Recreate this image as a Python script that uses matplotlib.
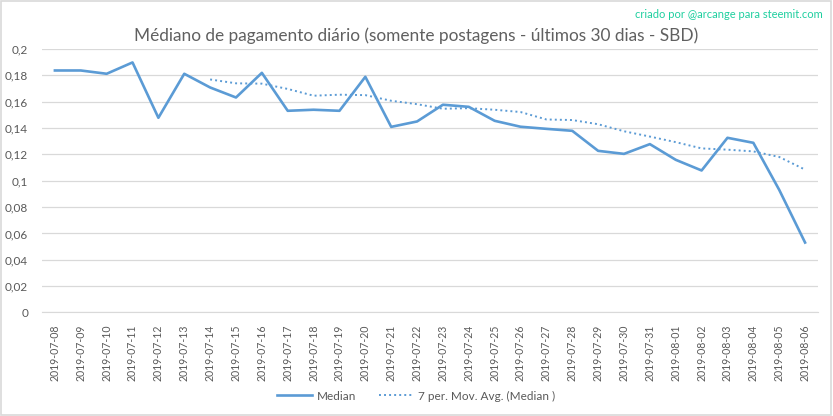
import numpy as np
import pandas as pd
import matplotlib
matplotlib.use("Agg")
import matplotlib.pyplot as plt
from matplotlib.patches import Rectangle

# daily median payout (SBD)
dates = pd.date_range("2019-07-08", "2019-08-06", freq="D").strftime("%Y-%m-%d").tolist()
median = [0.1837, 0.1837, 0.1812, 0.1898, 0.1478, 0.1812, 0.1708, 0.1632,
          0.1819, 0.1531, 0.1539, 0.1531, 0.1789, 0.1409, 0.1450, 0.1577,
          0.1561, 0.1455, 0.1410, 0.1394, 0.1379, 0.1227, 0.1204, 0.1278,
          0.1159, 0.1078, 0.1326, 0.1288, 0.0931, 0.0531]

# Excel-style 7 period moving average trendline of the median series
mov_avg = pd.Series(median).rolling(7).mean()

blue = "#5B9BD5"
grey_txt = "#595959"
grid_c = "#D9D9D9"

plt.rcParams["font.family"] = ["Lato", "DejaVu Sans"]

fig = plt.figure(figsize=(8.33, 4.16), dpi=100)
ax = fig.add_axes([0.0504, 0.2488, 0.9316, 0.6334])

x = np.arange(len(dates))
ax.plot(x, median, color=blue, linewidth=1.9, label="Median")
ax.plot(x, mov_avg, color=blue, linewidth=1.4, linestyle=(0, (1, 1.6)),
        label="7 per. Mov. Avg. (Median )")

ax.set_xlim(-0.5, len(dates) - 0.5)
ax.set_ylim(0, 0.2)
yt = np.round(np.arange(0, 0.2001, 0.02), 2)
ax.set_yticks(yt)
ax.set_yticklabels([f"{v:g}".replace(".", ",") for v in yt])
ax.set_xticks(x)
ax.set_xticklabels(dates, rotation=90)
ax.tick_params(axis="both", length=0, colors=grey_txt)
ax.tick_params(axis="y", pad=10, labelsize=8.5)
ax.tick_params(axis="x", pad=9, labelsize=7.6)

ax.grid(axis="y", color=grid_c, linewidth=0.9)
ax.set_axisbelow(True)
for s in ["top", "right", "left"]:
    ax.spines[s].set_visible(False)
ax.spines["bottom"].set_color(grid_c)

fig.text(0.5, 0.915, "Médiano de pagamento diário (somente postagens - últimos 30 dias - SBD)",
         ha="center", va="center", fontsize=12.4, color="#606060")
fig.text(0.988, 0.965, "criado por @arcange para steemit.com", ha="right", va="center",
         fontsize=8, color="#1ECF9F")

fig.legend(loc="center", bbox_to_anchor=(0.5, 0.048), ncol=2, frameon=False,
           fontsize=8.5, labelcolor=grey_txt, handlelength=2.9, handletextpad=0.4,
           columnspacing=2.0)

fig.patches.append(Rectangle((0.001, 0.002), 0.997, 0.996, transform=fig.transFigure,
                             fill=False, edgecolor=grid_c, linewidth=1.2))

fig.savefig("out.png", dpi=100)
